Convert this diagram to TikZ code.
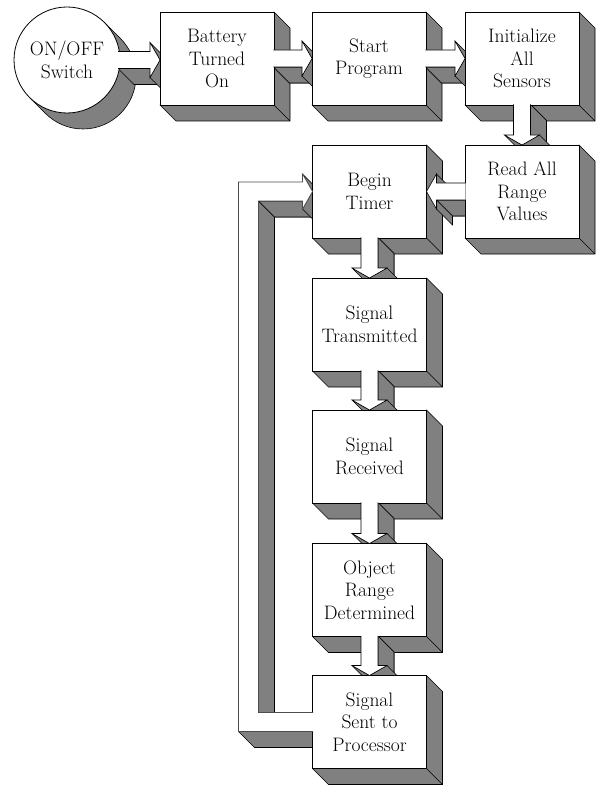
\documentclass[tikz,border=0pt]{standalone}
\usetikzlibrary{calc}
\definecolor{sh}{RGB}{128,128,128}
\pgfdeclarelayer{bgl}\pgfdeclarelayer{boxsh}\pgfdeclarelayer{arrsh}\pgfdeclarelayer{boxfr}
\pgfsetlayers{bgl,boxsh,arrsh,boxfr,main}
\def\shw{8.5pt}\def\hdw{17.5pt}\def\hdl{10pt}
\tikzset{
 lbl/.style={font=\fontsize{19.5}{22.5}\selectfont},
 box/.style={lbl, draw, fill=white, line width=0.8pt, minimum width=114pt, minimum height=93pt,
   inner sep=0pt, outer sep=0pt, align=center},
 shadeface/.style={fill=sh, draw=black, line width=0.6pt, line join=round},
 arrfront/.style={draw=black, line width=0.6pt, line join=miter},
 loopfront/.style={draw=black!70, line width=0.6pt},
 sd/.style={shift={(16pt,-16pt)}},
}
\newcommand\mkbox[4]{%
 \begin{pgfonlayer}{boxfr}\node[box] (#1) at (#2,#3) {#4};\end{pgfonlayer}
 \begin{pgfonlayer}{boxsh}
  \filldraw[shadeface] (#1.north east) -- ([sd]#1.north east) -- ([sd]#1.south east)
    -- ([sd]#1.south west) -- (#1.south west) -- (#1.south east) -- cycle;
  \draw[line width=0.6pt] (#1.south east) -- ([sd]#1.south east);
 \end{pgfonlayer}}
\newcommand\quadface[2]{\filldraw[shadeface] (#1) -- (#2) -- ([sd]#2) -- ([sd]#1) -- cycle;}
\newcommand\arrowparts[2]{%
 \begin{pgfonlayer}{arrsh}
  \filldraw[shadeface] ([sd]#1A) -- ([sd]#1B) -- ([sd]#1C) -- ([sd]#1D) -- ([sd]#1E)
    -- ([sd]#1F) -- ([sd]#1G) -- cycle;
  \quadface{#1F}{#1G}
  \ifnum#2=1 \quadface{#1C}{#1D}\quadface{#1D}{#1E}\else\quadface{#1B}{#1C}\quadface{#1E}{#1F}\fi
 \end{pgfonlayer}
 \fill[white] (#1A) -- (#1B) -- (#1C) -- (#1D) -- (#1E) -- (#1F) -- (#1G) -- cycle;
 \draw[arrfront] (#1A) -- (#1B) -- (#1C) -- (#1D) -- (#1E) -- (#1F) -- (#1G);}
% right-pointing arrow
\newcommand\arrowR[4]{%
 \path let \p1=(#1.east), \p2=(#2.west) in
  (\x1-#4,\y1+\shw) coordinate (#3A)
  (\x2-\hdl,\y1+\shw) coordinate (#3B)
  (\x2-\hdl,\y1+\hdw) coordinate (#3C)
  (\x2,\y1) coordinate (#3D)
  (\x2-\hdl,\y1-\hdw) coordinate (#3E)
  (\x2-\hdl,\y1-\shw) coordinate (#3F)
  (\x1-#4,\y1-\shw) coordinate (#3G);
 \arrowparts{#3}{1}}
% downward arrow
\newcommand\arrowD[4]{%
 \path let \p1=(#1.south), \p2=(#2.north) in
  (\x1-\shw,\y1+#4) coordinate (#3A)
  (\x1-\shw,\y2+\hdl) coordinate (#3B)
  (\x1-\hdw,\y2+\hdl) coordinate (#3C)
  (\x1,\y2) coordinate (#3D)
  (\x1+\hdw,\y2+\hdl) coordinate (#3E)
  (\x1+\shw,\y2+\hdl) coordinate (#3F)
  (\x1+\shw,\y1+#4) coordinate (#3G);
 \arrowparts{#3}{1}}
% left-pointing arrow
\newcommand\arrowL[4]{%
 \path let \p1=(#1.west), \p2=(#2.east) in
  (\x1+#4,\y1+\shw) coordinate (#3A)
  (\x2+\hdl,\y1+\shw) coordinate (#3B)
  (\x2+\hdl,\y1+\hdw) coordinate (#3C)
  (\x2,\y1) coordinate (#3D)
  (\x2+\hdl,\y1-\hdw) coordinate (#3E)
  (\x2+\hdl,\y1-\shw) coordinate (#3F)
  (\x1+#4,\y1-\shw) coordinate (#3G);
 \arrowparts{#3}{2}}
\begin{document}
\begin{tikzpicture}[x=1pt,y=-1pt]
\useasboundingbox (0,0) rectangle (597,786);
\begin{pgfonlayer}{bgl}\fill[white] (0,0) rectangle (597,786);\end{pgfonlayer}
% switch circle
\begin{pgfonlayer}{boxfr}
 \node[lbl, circle, draw, fill=white, line width=0.8pt, minimum size=106pt, inner sep=0pt, outer sep=0pt,
   align=center] (sw) at (67,60) {ON/OFF\\Switch};
\end{pgfonlayer}
\begin{pgfonlayer}{boxsh}
 \filldraw[shadeface] ([sd]sw.center) circle (53pt);
 \fill[sh] (sw.45) -- ([sd]sw.45) -- ([sd]sw.225) -- (sw.225) -- cycle;
 \draw[line width=0.6pt] (sw.45) -- ([sd]sw.45) (sw.225) -- ([sd]sw.225);
\end{pgfonlayer}
% boxes
\mkbox{bat}{217}{58.5}{Battery\\Turned\\On}
\mkbox{start}{369}{58.5}{Start\\Program}
\mkbox{init}{522}{58.5}{Initialize\\All\\Sensors}
\mkbox{read}{522}{191.5}{Read All\\Range\\Values}
\mkbox{bt}{369.5}{191.5}{Begin\\Timer}
\mkbox{st}{369.5}{324.5}{Signal\\Transmitted}
\mkbox{sr}{369.5}{456.5}{Signal\\Received}
\mkbox{orng}{369.5}{590}{Object\\Range\\Determined}
\mkbox{ss}{369.5}{722}{Signal\\Sent to\\Processor}
% arrows
\arrowR{sw}{bat}{a}{2pt}
\arrowR{bat}{start}{b}{0.6pt}
\arrowR{start}{init}{c}{0.6pt}
\arrowD{init}{read}{d}{0.6pt}
\arrowL{read}{bt}{e}{0.6pt}
\arrowD{bt}{st}{f}{0.6pt}
\arrowD{st}{sr}{g}{0.6pt}
\arrowD{sr}{orng}{h}{0.6pt}
\arrowD{orng}{ss}{k}{0.6pt}
% feedback loop
\path let \p1=(ss.west), \p2=(bt.west) in
  (\x1+0.6pt,\y1+9.5pt) coordinate (L1)
  (\x2-54pt,\y1+9.5pt) coordinate (L2)
  (\x2-54pt,\y2-9.5pt) coordinate (L3)
  (\x2-\hdl,\y2-9.5pt) coordinate (L4)
  (\x2-\hdl,\y2-\hdw) coordinate (L5)
  (\x2,\y2) coordinate (L6)
  (\x2-\hdl,\y2+\hdw) coordinate (L7)
  (\x2-\hdl,\y2+9.5pt) coordinate (L8)
  (\x2-74pt,\y2+9.5pt) coordinate (L9)
  (\x2-74pt,\y1-9.5pt) coordinate (L10)
  (\x1+0.6pt,\y1-9.5pt) coordinate (L11);
\begin{pgfonlayer}{arrsh}
 \filldraw[shadeface] ([sd]L1) -- ([sd]L2) -- ([sd]L3) -- ([sd]L4) -- ([sd]L5) -- ([sd]L6)
   -- ([sd]L7) -- ([sd]L8) -- ([sd]L9) -- ([sd]L10) -- ([sd]L11) -- cycle;
 \quadface{L10}{L11}
 \quadface{L2}{L3}
 \quadface{L3}{L4}
 \quadface{L5}{L6}
 \quadface{L6}{L7}
\end{pgfonlayer}
\fill[white] (L1) -- (L2) -- (L3) -- (L4) -- (L5) -- (L6) -- (L7) -- (L8) -- (L9) -- (L10) -- (L11) -- cycle;
\draw[loopfront] (L1) -- (L2) -- (L3) -- (L4) -- (L5) -- (L6) -- (L7) -- (L8) -- (L9) -- (L10) -- (L11);
\end{tikzpicture}
\end{document}
